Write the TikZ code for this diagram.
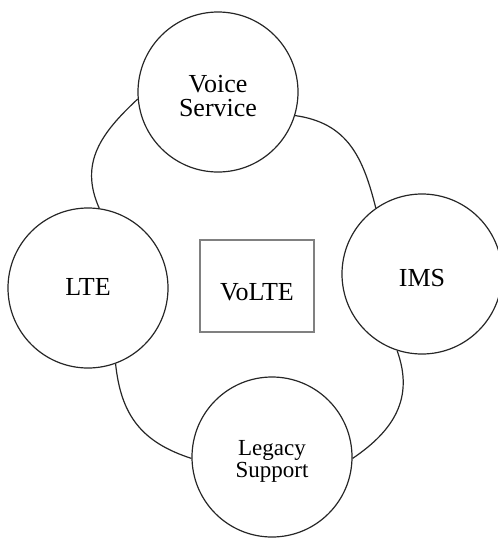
\documentclass[tikz,border=0pt]{standalone}
\usepackage{fontspec}
\setmainfont{Liberation Serif}
\begin{document}
\begin{tikzpicture}[x=1pt,y=-1pt,
  bubble/.style={circle,draw=black!85,line width=1.2pt,minimum size=160pt,inner sep=0pt,align=center,font=\fontsize{26}{24}\selectfont,text depth=0pt},
  centerbox/.style={rectangle,draw=black!50,line width=1.1pt,minimum width=114pt,minimum height=92pt,inner sep=0pt,font=\fontsize{26}{24}\selectfont,text depth=0pt},
  link/.style={draw=black!85,line width=1.2pt}]
\useasboundingbox (0,0) rectangle (498,539);
\node[bubble,text height=48pt] (vs) at (218,92) {Voice\\Service};
\node[bubble,text height=14pt] (lte) at (88,288) {LTE};
\node[bubble,text height=24pt] (ims) at (422,274) {IMS};
\node[bubble,font=\fontsize{23}{22}\selectfont,text height=40pt] (leg) at (272,457) {Legacy\\Support};
\node[centerbox,text height=28pt] (volte) at (257,286) {VoLTE};
\draw[link] (vs.185) to[out=223,in=114,looseness=1.1] (lte.82);
\draw[link] (vs.-17) to[out=-8,in=104,looseness=1.1] (ims.125);
\draw[link] (lte.-70) to[out=-84,in=162,looseness=1.1] (leg.181);
\draw[link] (ims.252) to[out=-70,in=34,looseness=1.1] (leg.-1.5);
\end{tikzpicture}
\end{document}
